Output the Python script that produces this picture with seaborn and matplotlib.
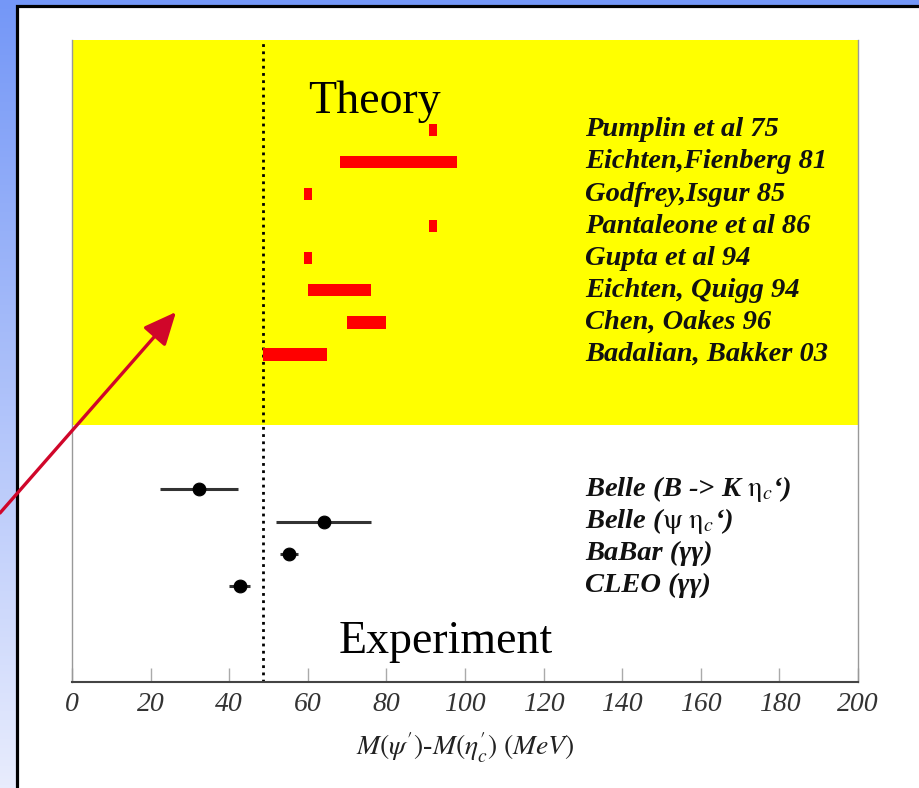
import numpy as np
import matplotlib
matplotlib.use("Agg")
import matplotlib.pyplot as plt
import seaborn as sns
import pandas as pd
from matplotlib.patches import Rectangle, FancyArrowPatch
from matplotlib.colors import LinearSegmentedColormap

# ---------------- data ----------------
theory_labels = ["Pumplin et al 75", "Eichten,Fienberg 81", "Godfrey,Isgur 85",
                 "Pantaleone et al 86", "Gupta et al 94", "Eichten, Quigg 94",
                 "Chen, Oakes 96", "Badalian, Bakker 03"]
theory_low = [90.8, 68.2, 59.0, 90.8, 59.0, 60.0, 70.0, 48.7]
theory_high = [92.9, 98.0, 61.0, 92.9, 61.0, 76.0, 80.0, 65.0]

exp_labels = [r"Belle (B -> K $\mathrm{\eta}_c$‘)", r"Belle ($\mathrm{\psi}$ $\mathrm{\eta}_c$‘)",
              "BaBar (γγ)", "CLEO (γγ)"]
exp_values = [32.3, 64.0, 55.2, 42.7]
exp_errors = [10.0, 12.0, 2.4, 2.7]

average_line = 48.6
x_ticks = [0, 20, 40, 60, 80, 100, 120, 140, 160, 180, 200]
x_label = r"$M(\psi^{\prime})$-$M(\eta^{\prime}_{c})\ (MeV)$"

# ---------------- style ----------------
sns.set_theme(style="white")
plt.rcParams['font.family'] = ['Liberation Serif', 'DejaVu Serif']
plt.rcParams['mathtext.fontset'] = 'stix'

W, H = 920, 788
fig = plt.figure(figsize=(W / 100, H / 100), dpi=100)

# background gradient + white panel
bg = fig.add_axes([0, 0, 1, 1], zorder=-10)
grad = np.linspace(0, 1, 256)[:, None]
cmap = LinearSegmentedColormap.from_list('bg', ['#7497f7', '#e8ecfd'])
bg.imshow(grad, aspect='auto', cmap=cmap, extent=[0, 1, 0, 1], origin='upper')
bg.set_xlim(0, 1)
bg.set_ylim(0, 1)
bg.axis('off')
bg.add_patch(Rectangle((16.5 / W, -0.05), 1.1, (1 - 6.5 / H) + 0.05,
                       facecolor='white', edgecolor='black', lw=2.3, clip_on=False))

# main axes
ax = fig.add_axes([72 / W, 1 - 682 / H, (858 - 72) / W, (682 - 40) / H])
ax.set_facecolor('white')
ax.axhspan(0, 12.0, facecolor='#ffff00', lw=0, zorder=0)

theory_rows = [2.8 + i for i in range(len(theory_labels))]
exp_rows = [14.0 + i for i in range(len(exp_labels))]

ax.barh(theory_rows, np.array(theory_high) - np.array(theory_low), left=theory_low,
        height=0.38, color='#ff0000', lw=0, zorder=3)

df = pd.DataFrame({'value': exp_values, 'row': exp_rows, 'err': exp_errors})
ax.errorbar(df['value'], df['row'], xerr=df['err'], fmt='none', ecolor='#333333',
            elinewidth=2.2, capsize=0, zorder=4)
sns.scatterplot(data=df, x='value', y='row', color='black', s=85, edgecolor='black',
                ax=ax, zorder=5, legend=False)

ax.axvline(average_line, color='black', lw=2, ls=(0, (1, 1.6)), zorder=2)

for r, t in zip(theory_rows, theory_labels):
    ax.text(130.5, r, t, fontsize=20.5, fontweight='bold', fontstyle='italic',
            va='center', ha='left', color='#111111')
for r, t in zip(exp_rows, exp_labels):
    ax.text(130.5, r, t, fontsize=20.5, fontweight='bold', fontstyle='italic',
            va='center', ha='left', color='#111111')

ax.text(77, 2.27, "Theory", fontsize=33, ha='center', va='baseline', color='black')
ax.text(95.2, 19.1, "Experiment", fontsize=33, ha='center', va='baseline', color='black')

ax.set_xlim(0, 200)
ax.set_ylim(20, 0)
ax.set_yticks([])
ax.set_ylabel('')
ax.set_xticks(x_ticks)
ax.set_xticklabels([str(t) for t in x_ticks], fontstyle='italic')
ax.tick_params(axis='x', bottom=True, direction='in', length=10, width=1,
               color='#aaaaaa', labelsize=20, labelcolor='#333333', pad=7)
ax.set_xlabel(x_label, fontsize=20, color='#222222', labelpad=10)

ax.spines['top'].set_visible(False)
for s in ('left', 'right'):
    ax.spines[s].set_color('#999999')
    ax.spines[s].set_linewidth(1.0)
ax.spines['bottom'].set_color('#444444')
ax.spines['bottom'].set_linewidth(1.5)

# red arrow
arrow = FancyArrowPatch(posA=(0, 1 - 513 / H), posB=(176 / W, 1 - 312 / H),
                        transform=fig.transFigure,
                        arrowstyle='-|>,head_length=1.0,head_width=0.45',
                        mutation_scale=20, color='#d0062a', lw=2.4,
                        shrinkA=0, shrinkB=0, zorder=20)
fig.add_artist(arrow)

fig.savefig('out.png', dpi=100)
